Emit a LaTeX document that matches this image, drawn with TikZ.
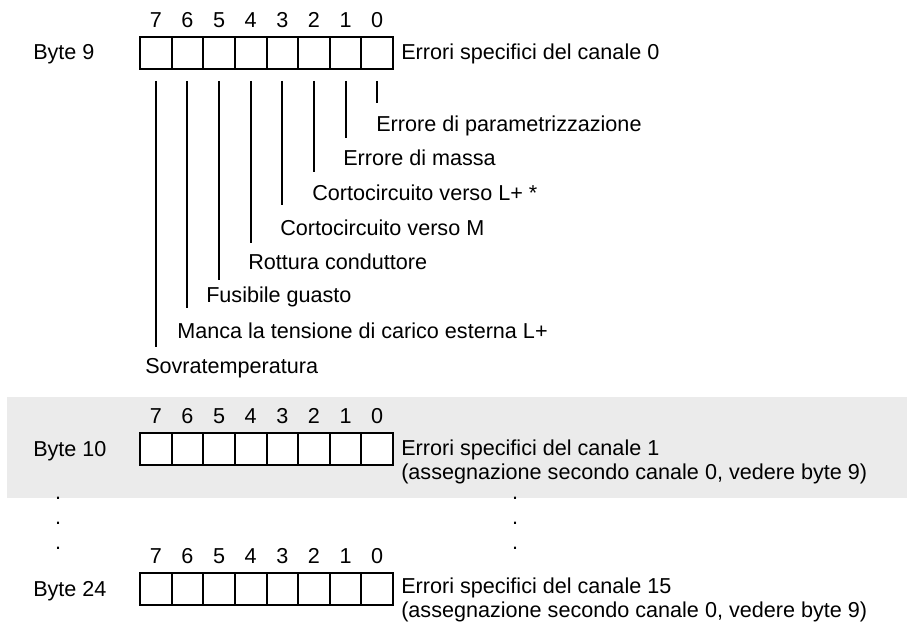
\documentclass[tikz,border=0pt]{standalone}
\usepackage{fontspec}
\setmainfont{Liberation Sans}
\usetikzlibrary{positioning}
\definecolor{band}{HTML}{EBEBEB}

\begin{document}
\begin{tikzpicture}[x=0.75pt, y=-0.75pt, font=\fontsize{16.2}{18}\selectfont,
  bitcell/.style={draw, line width=1.5pt, fill=white, minimum width=23.72pt,
    minimum height=24pt, inner sep=0pt},
  txt/.style={anchor=base west, inner sep=0pt, align=left},
  lead/.style={line width=1.5pt}]
  \useasboundingbox (0,0) rectangle (907,624);

  % Grey band behind byte 10
  \fill[band] (7,397) rectangle (907,498);

  % Byte rows with bit numbers
  \foreach \r/\y in {9/53, 10/449, 24/589} {
    \node[txt] (lbl\r) at (33,\y+7) {Byte \r};
    \foreach \i in {7,...,0} {
      \node[bitcell] (b\r-\i) at ({140+(7.5-\i)*31.625},\y) {};
      \node[above=6pt of b\r-\i, inner sep=0pt] (n\r-\i) {\i};
    }
  }

  % Channel descriptions (base = last line)
  \node[txt] (d9) at (401,60) {Errori specifici del canale 0};
  \node[txt] (d10) at (401,479)
    {Errori specifici del canale 1\\(assegnazione secondo canale 0, vedere byte 9)};
  \node[txt] (d24) at (401,617)
    {Errori specifici del canale 15\\(assegnazione secondo canale 0, vedere byte 9)};

  % Bit meanings of byte 9
  \foreach \i/\x/\yb/\e/\lab in {0/376/132/103/Errore di parametrizzazione,
      1/343/166/138/Errore di massa, 2/312/201/172/Cortocircuito verso L+ *,
      3/280/235/205/Cortocircuito verso M, 4/248/269/243/Rottura conduttore,
      5/206/302/280/Fusibile guasto,
      6/177/338/308/Manca la tensione di carico esterna L+,
      7/145/373/347/Sovratemperatura} {
    \node[txt] (e\i) at (\x,\yb) {\lab};
    \coordinate (t\i) at (0,\e);
    \draw[lead] ([yshift=-8.25pt]b9-\i.south) -- (b9-\i.south |- t\i);
  }

  % Omitted bytes
  \foreach \y in {499,524,549} {
    \node[anchor=base, inner sep=0pt] (dl\y) at (58,\y) {.};
    \node[anchor=base, inner sep=0pt] (dr\y) at (515,\y) {.};
  }
\end{tikzpicture}
\end{document}
